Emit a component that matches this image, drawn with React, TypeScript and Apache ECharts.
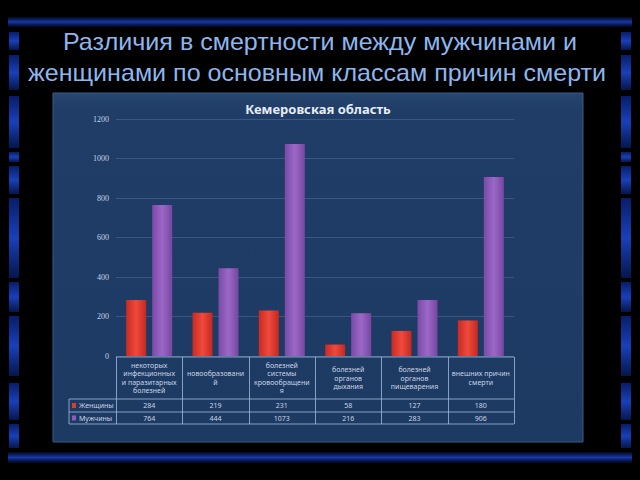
import React, { useEffect, useRef } from "react";
import * as echarts from "echarts";

const pageTitle = ["Различия в смертности между мужчинами и", "женщинами по основным классам причин смерти"];
const chartTitle = "Кемеровская область";
const seriesNames = ["Женщины", "Мужчины"];
const categories = [
  "некоторых\nинфекционных\nи паразитарных\nболезней",
  "новообразовани\nй",
  "болезней\nсистемы\nкровообращени\nя",
  "болезней\nорганов\nдыхания",
  "болезней\nорганов\nпищеварения",
  "внешних причин\nсмерти",
];
const women = [284, 219, 231, 58, 127, 180];
const men = [764, 444, 1073, 216, 283, 906];
const yMin = 0;
const yMax = 1200;
const yStep = 200;

const W = 640;
const H = 480;
const G = { left: 116, right: 126, top: 119, bottom: 124 };
const PANEL = { x: 53, y: 93, w: 530, h: 349 };
const TABLE = { legendLeft: 69, headerBottom: 399, row1Bottom: 412, row2Bottom: 424 };
const RED = "#e0392e";
const PURPLE = "#8f5cb9";
const TEXT = "#c9d3e3";
const LINE = "rgba(170,195,230,0.75)";

function frame(): any[] {
  const els: any[] = [];
  els.push({ type: "rect", z: -20, shape: { x: 0, y: 0, width: W, height: H }, style: { fill: "#000" } });
  const hStripe = (y: number, h: number) => ({
    type: "rect", z: -19, shape: { x: 8, y, width: 624, height: h },
    style: {
      fill: new echarts.graphic.LinearGradient(0, 0, 0, 1, [
        { offset: 0, color: "rgba(20,50,160,0.15)" },
        { offset: 0.5, color: "#1838a8" },
        { offset: 1, color: "rgba(10,30,120,0.25)" },
      ]),
    },
  });
  els.push(hStripe(17, 10));
  els.push(hStripe(452, 11));
  const segs = [[32, 50], [55, 90], [96, 148], [152, 162], [166, 194], [198, 278], [282, 312], [316, 376], [383, 420], [424, 448]];
  for (const x of [9, 621]) {
    for (const [a, b] of segs) {
      els.push({
        type: "rect", z: -19, shape: { x, y: a, width: 10, height: b - a },
        style: {
          fill: new echarts.graphic.LinearGradient(0, 0, 0, 1, [
            { offset: 0, color: "#081d68" },
            { offset: 0.5, color: "#1840b8" },
            { offset: 1, color: "#05164c" },
          ]),
        },
      });
    }
  }
  return els;
}

function table(): any[] {
  const els: any[] = [];
  const x0 = G.left;
  const x1 = W - G.right;
  const y0 = H - G.bottom;
  const cw = (x1 - x0) / categories.length;
  const ln = (xa: number, ya: number, xb: number, yb: number) => ({
    type: "line", z: 5, shape: { x1: xa, y1: ya, x2: xb, y2: yb }, style: { stroke: LINE, lineWidth: 1 },
  });
  els.push(ln(x0, y0 + 1, x1, y0 + 1));
  for (const y of [TABLE.headerBottom, TABLE.row1Bottom, TABLE.row2Bottom]) els.push(ln(TABLE.legendLeft, y, x1, y));
  els.push(ln(TABLE.legendLeft, TABLE.headerBottom, TABLE.legendLeft, TABLE.row2Bottom));
  for (let i = 0; i <= categories.length; i++) {
    const x = Math.round(x0 + cw * i) + 0.5;
    els.push(ln(x, y0 + 1, x, TABLE.row2Bottom));
  }
  const rows = [
    { name: seriesNames[0], color: RED, y: (TABLE.headerBottom + TABLE.row1Bottom) / 2 },
    { name: seriesNames[1], color: PURPLE, y: (TABLE.row1Bottom + TABLE.row2Bottom) / 2 },
  ];
  for (const r of rows) {
    els.push({ type: "rect", z: 5, shape: { x: TABLE.legendLeft + 3, y: r.y - 2.5, width: 4, height: 5 }, style: { fill: r.color } });
    els.push({
      type: "text", z: 5, x: TABLE.legendLeft + 10, y: r.y,
      style: { text: r.name, fill: TEXT, font: "7px 'Noto Sans'", align: "left", verticalAlign: "middle", textAlign: "left", textVerticalAlign: "middle" },
    });
  }
  return els;
}

export default function App() {
  const ref = useRef<HTMLDivElement>(null);
  useEffect(() => {
    if (!ref.current) return;
    const chart = echarts.init(ref.current, null, { renderer: "svg" });
    const valueAxis = (margin: number, values: number[]) => ({
      type: "category",
      data: categories,
      position: "bottom",
      axisLine: { show: false },
      axisTick: { show: false },
      axisLabel: {
        interval: 0, margin, color: TEXT, fontSize: 7, fontFamily: "Noto Sans", verticalAlign: "middle",
        formatter: (_v: string, i: number) => String(values[i]),
      },
    });
    const titleText = (text: string, x: number, y: number) => ({
      type: "text", z: 5, x, y, scaleX: 1.09,
      style: { text, fill: "#8db6ee", font: "23px 'Liberation Sans'", align: "center", verticalAlign: "middle", textAlign: "center", textVerticalAlign: "middle" },
    });
    chart.setOption({
      animation: false,
      backgroundColor: "transparent",
      grid: { left: G.left, right: G.right, top: G.top, bottom: G.bottom, containLabel: false },
      xAxis: [
        {
          type: "category",
          data: categories,
          position: "bottom",
          axisLine: { show: false },
          axisTick: { show: false },
          axisLabel: { interval: 0, margin: 22, color: TEXT, fontSize: 7, lineHeight: 8.5, fontFamily: "Noto Sans", verticalAlign: "middle", align: "center" },
        },
        valueAxis(49, women),
        valueAxis(62, men),
      ],
      yAxis: {
        type: "value", min: yMin, max: yMax, interval: yStep,
        axisLine: { show: false }, axisTick: { show: false },
        axisLabel: { color: TEXT, fontSize: 8, fontFamily: "Liberation Serif", margin: 7, formatter: (v: number) => String(v) },
        splitLine: { lineStyle: { color: "rgba(120,160,210,0.28)", width: 1 } },
      },
      series: [
        {
          name: seriesNames[0], type: "bar", data: women, barWidth: 20, barGap: "30%",
          itemStyle: {
            color: new echarts.graphic.LinearGradient(0, 0, 1, 0, [
              { offset: 0, color: "#c92a22" },
              { offset: 0.5, color: "#ef4a3c" },
              { offset: 1, color: "#c42820" },
            ]),
          },
        },
        {
          name: seriesNames[1], type: "bar", data: men, barWidth: 20,
          itemStyle: {
            color: new echarts.graphic.LinearGradient(0, 0, 1, 0, [
              { offset: 0, color: "#7a4aa6" },
              { offset: 0.5, color: "#9c68c8" },
              { offset: 1, color: "#7646a0" },
            ]),
          },
        },
      ],
      graphic: [
        ...frame(),
        {
          type: "rect", z: -18,
          shape: { x: PANEL.x, y: PANEL.y, width: PANEL.w, height: PANEL.h },
          style: {
            fill: new echarts.graphic.LinearGradient(0, 0, 0, 1, [
              { offset: 0, color: "#26456f" },
              { offset: 0.05, color: "#1f3d67" },
              { offset: 1, color: "#1d3a63" },
            ]),
            stroke: "#3a5a85", lineWidth: 1,
          },
        },
        titleText(pageTitle[0], 320, 42),
        titleText(pageTitle[1], 317, 73),
        {
          type: "text", z: 5, x: 318, y: 109,
          style: { text: chartTitle, fill: "#e6ecf6", font: "bold 13px 'Noto Sans'", align: "center", verticalAlign: "middle", textAlign: "center", textVerticalAlign: "middle" },
        },
        ...table(),
      ],
    });
    return () => chart.dispose();
  }, []);
  return (
    <div style={{ position: "fixed", left: 0, top: 0, width: W, height: H, background: "#000" }}>
      <div ref={ref} style={{ width: W, height: H }} />
    </div>
  );
}
